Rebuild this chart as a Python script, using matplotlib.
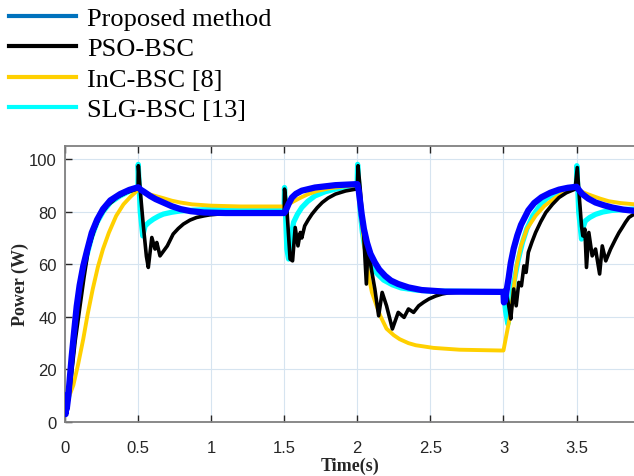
import matplotlib
matplotlib.use("Agg")
import matplotlib.pyplot as plt
from matplotlib.lines import Line2D

# ---------------- data ----------------
series_names = ["Proposed method", "PSO-BSC", "InC-BSC [8]", "SLG-BSC [13]"]

t_prop = [0, 0.004, 0.008, 0.012, 0.023, 0.035, 0.046, 0.06, 0.08, 0.1, 0.125, 0.15, 0.183,
          0.22, 0.26, 0.31, 0.377, 0.44, 0.5,
          0.52, 0.54, 0.582, 0.62, 0.673, 0.73, 0.79, 0.86, 0.95, 1.1, 1.5,
          1.507, 1.53, 1.553, 1.58, 1.62, 1.71, 1.85, 2.0,
          2.01, 2.02, 2.03, 2.045, 2.066, 2.09, 2.12, 2.15, 2.19, 2.23, 2.28, 2.35, 2.44, 2.6, 3.0,
          3.003, 3.01, 3.02, 3.036, 3.05, 3.07, 3.095, 3.12, 3.17, 3.21, 3.26, 3.32, 3.38, 3.44, 3.5,
          3.52, 3.54, 3.58, 3.63, 3.69, 3.744, 3.82, 3.9]
p_prop = [10, 3, 9, 5, 10, 18, 25, 33, 44, 52, 59.4, 65, 72,
          77, 81, 84.3, 86.7, 88.3, 89.3,
          88.3, 87.6, 86, 84.8, 83.5, 82.1, 81, 80.2, 79.7, 79.5, 79.5,
          80, 83, 85.4, 86.8, 88, 89.2, 90.1, 90.5,
          88, 83.5, 79, 73.5, 68.3, 64, 60.7, 58, 55.6, 53.8, 52.5, 51.2, 50.2, 49.6, 49.5,
          45.5, 46, 49.5, 55, 60.5, 66, 71, 75, 80.5, 83.3, 85.5, 87.2, 88.4, 89.1, 89.5,
          88, 86.7, 85, 83.5, 82.4, 81.6, 80.8, 80.3]

t_pso = [0, 0.01, 0.02, 0.03, 0.046, 0.07, 0.103, 0.13, 0.16, 0.2, 0.24, 0.29, 0.354, 0.42, 0.49, 0.5,
         0.502, 0.518, 0.536, 0.557, 0.57, 0.594, 0.616, 0.628, 0.65, 0.70, 0.74, 0.775, 0.81, 0.855,
         0.90, 0.95, 0.99, 1.05, 1.15, 1.5,
         1.502, 1.518, 1.54, 1.557, 1.575, 1.594, 1.61, 1.62, 1.64, 1.665, 1.69, 1.725, 1.76, 1.8,
         1.85, 1.92, 1.99, 2.0,
         2.005, 2.02, 2.043, 2.062, 2.073, 2.096, 2.12, 2.146, 2.17, 2.20, 2.24, 2.28, 2.32, 2.35,
         2.385, 2.42, 2.455, 2.49, 2.535, 2.58, 2.62, 2.67, 2.75, 3.0,
         3.014, 3.036, 3.05, 3.07, 3.087, 3.105, 3.123, 3.14, 3.155, 3.17, 3.195, 3.22, 3.255, 3.29,
         3.335, 3.38, 3.43, 3.49,
         3.505, 3.52, 3.534, 3.543, 3.557, 3.568, 3.584, 3.607, 3.63, 3.658, 3.676, 3.70, 3.733,
         3.767, 3.79, 3.813, 3.835, 3.858, 3.88, 3.9]
p_pso = [9, 5, 7, 11, 18.9, 31, 44.2, 55, 65.8, 73, 78.4, 82.3, 85.4, 87.3, 88.6, 88.8,
         97.5, 86, 74.6, 63, 58.8, 70.2, 65.8, 68.3, 63.2, 67, 71.5, 73.6, 75.3, 76.8,
         77.8, 78.4, 78.8, 79.1, 79.3, 79.4,
         88.6, 81, 62, 61.3, 74, 67, 72.1, 70, 74.6, 77, 79.1, 81.5, 83.5, 85.2,
         86.7, 87.9, 88.6, 89,
         97.5, 88.6, 72.1, 52.5, 67, 58.2, 50.6, 40.4, 49.3, 44.2, 35.4, 41.7, 39.8, 43,
         41.7, 44.2, 45.6, 46.8, 47.9, 48.7, 49.1, 49.3, 49.5, 49.5,
         50.6, 44.2, 39.2, 50.6, 44.2, 53.1, 51.8, 59.4, 56.9, 64.5, 68.5, 72.1, 76.2, 79.7,
         82.8, 85.4, 87.2, 88.6,
         96.8, 84.8, 74.6, 70.8, 73.4, 58.8, 72.1, 63.2, 65.8, 56.3, 67, 61.3, 65.8,
         69.6, 72, 74, 76, 77.8, 78.6, 79.2]

t_inc = [0, 0.03, 0.057, 0.09, 0.125, 0.155, 0.19, 0.225, 0.26, 0.3, 0.35, 0.4, 0.45, 0.5,
         0.54, 0.58, 0.63, 0.67, 0.73, 0.79, 0.87, 1.0, 1.2, 1.5,
         1.52, 1.55, 1.6, 1.66, 1.72, 1.8, 1.9, 2.0,
         2.01, 2.03, 2.05, 2.066, 2.083, 2.1, 2.13, 2.157, 2.2, 2.25, 2.29, 2.35, 2.4, 2.52, 2.7,
         2.98, 3.0,
         3.02, 3.05, 3.07, 3.09, 3.12, 3.16, 3.22, 3.28, 3.36, 3.44, 3.5,
         3.54, 3.58, 3.66, 3.72, 3.8, 3.9]
p_inc = [8, 10, 14, 22, 31.6, 41, 50.6, 59, 65.8, 72, 78.4, 82.8, 85.8, 88.3,
         87.5, 86.6, 85.8, 85.2, 84.2, 83.5, 82.8, 82.3, 82, 82,
         82.6, 83.5, 85, 86.6, 87.8, 88.8, 89.6, 90,
         86, 76, 66, 59.4, 54, 49.3, 44.5, 40.4, 35.5, 33, 31.5, 30, 29.2, 28.2, 27.5,
         27.2, 27.2,
         33, 41.7, 51, 59.4, 67, 73.4, 78.5, 82.2, 85.5, 88, 88.8,
         87.5, 86.6, 85, 84, 83.3, 82.8]

t_slg = [0, 0.004, 0.01, 0.023, 0.035, 0.046, 0.06, 0.08, 0.1, 0.125, 0.15, 0.183, 0.22, 0.26,
         0.31, 0.377, 0.44, 0.499,
         0.501, 0.515, 0.532, 0.548, 0.575, 0.605, 0.64, 0.673, 0.73, 0.79, 0.88, 1.0, 1.499,
         1.502, 1.51, 1.518, 1.53, 1.545, 1.564, 1.59, 1.62, 1.66, 1.71, 1.78, 1.85, 1.92, 1.999,
         2.002, 2.012, 2.02, 2.035, 2.05, 2.075, 2.1, 2.14, 2.18, 2.24, 2.3, 2.4, 2.5, 3.0,
         3.015, 3.03, 3.05, 3.065, 3.08, 3.1, 3.13, 3.16, 3.2, 3.245, 3.29, 3.34, 3.4, 3.45, 3.499,
         3.502, 3.515, 3.534, 3.545, 3.56, 3.59, 3.63, 3.68, 3.74, 3.82, 3.9]
p_slg = [9, 4, 8, 9, 16, 23, 31, 42, 50, 57.5, 63.5, 70.5, 76, 80,
         83.5, 86, 87.8, 88.8,
         98, 80, 70.8, 74.6, 76, 77.2, 78.3, 79.1, 79.8, 80.3, 80.6, 80.8, 80.8,
         89.2, 78, 65.8, 62, 70, 76, 79, 81.6, 83.9, 86, 87.6, 88.6, 89.3, 89.8,
         98, 88, 80, 72, 67, 62.5, 59, 56.2, 54, 52.2, 51, 50.2, 49.8, 49.6,
         42, 37.3, 45, 51, 55.6, 61.5, 68.3, 73.5, 78.4, 82, 84.8, 86.6, 88, 88.7, 89,
         97.5, 80, 69.6, 74, 76.5, 77.8, 79, 79.9, 80.5, 80.8, 81]

x_ticks = [0, 0.5, 1, 1.5, 2, 2.5, 3, 3.5]
x_tick_labels = ["0", "0.5", "1", "1.5", "2", "2.5", "3", "3.5"]
y_ticks = [0, 20, 40, 60, 80, 100]
y_tick_labels = ["0", "20", "40", "60", "80", "100"]

# ---------------- figure ----------------
W, H = 634, 477
fig = plt.figure(figsize=(W / 100, H / 100), dpi=100)
ax = fig.add_axes([65 / W, 1 - 423 / H, 570 / W, (423 - 147) / H])

c_prop_line = "#0000FF"
c_prop_leg = "#0072BD"
c_pso = "#000000"
c_inc = "#FFD000"
c_slg = "#00FFFF"

ax.plot(t_slg, p_slg, color=c_slg, lw=3.8, zorder=2, solid_joinstyle="round")
ax.plot(t_inc, p_inc, color=c_inc, lw=2.8, zorder=3, solid_joinstyle="round")
ax.plot(t_pso, p_pso, color=c_pso, lw=2.6, zorder=4, solid_joinstyle="round")
ax.plot(t_prop, p_prop, color=c_prop_line, lw=4.5, zorder=5, solid_joinstyle="round")

ax.set_xlim(0, 3.9)
ax.set_ylim(0, 105)
ax.set_xticks(x_ticks)
ax.set_xticklabels(x_tick_labels)
ax.set_yticks(y_ticks)
ax.set_yticklabels(y_tick_labels)

ax.grid(True, color="#d6e4f0", lw=0.8)
ax.set_axisbelow(True)
for s in ["left", "bottom", "top"]:
    ax.spines[s].set_color("#808080")
    ax.spines[s].set_linewidth(1.3)
ax.spines["right"].set_visible(False)

ax.tick_params(axis="both", direction="in", length=5, width=1.0, color="#262626",
               labelsize=12, labelcolor="#262626")
ax.tick_params(axis="x", top=True, pad=13)
ax.tick_params(axis="y", right=False, pad=6)
for lab in ax.get_xticklabels() + ax.get_yticklabels():
    lab.set_family("Liberation Sans")

ax.set_xlabel("Time(s)", fontsize=13, fontweight="bold", family="Liberation Serif",
              color="#262626", labelpad=1)
ax.set_ylabel("Power (W)", fontsize=13, fontweight="bold", family="Liberation Serif",
              color="#262626", labelpad=0)

handles = [Line2D([], [], color=c_prop_leg, lw=3),
           Line2D([], [], color=c_pso, lw=3),
           Line2D([], [], color=c_inc, lw=3),
           Line2D([], [], color=c_slg, lw=3)]
fig.legend(handles, series_names, loc="upper left", bbox_to_anchor=(0.0103, 0.9895),
           frameon=False, prop={"family": "Liberation Serif", "size": 19},
           handlelength=2.55, handletextpad=0.4, labelspacing=0.26,
           borderaxespad=0.0, borderpad=0.1)

fig.savefig("out.png", dpi=100)
